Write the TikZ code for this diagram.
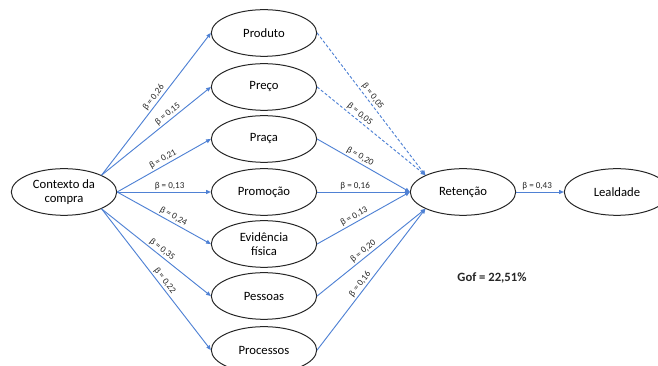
\documentclass[tikz,border=0pt]{standalone}
\usepackage{fontspec}
\setmainfont{Carlito}
\usetikzlibrary{arrows.meta,shapes.geometric}
\definecolor{linkblue}{RGB}{79,129,212}
\begin{document}
\begin{tikzpicture}[x=0.75pt, y=-0.75pt, line join=round, >={Triangle[length=3.5pt,width=3pt]},
	var/.style={draw=black!85, line width=0.75pt, ellipse, minimum width=79pt, minimum height=35pt, inner sep=0pt, align=center, font=\fontsize{9.5}{10.5}\selectfont},
	link/.style={->, color=linkblue, line width=0.7pt},
	weak/.style={link, dash pattern=on 2.2pt off 1.5pt},
	beta/.style={sloped, above, inner sep=1.2pt, text=black!85, font=\fontsize{6.8}{7}\selectfont}]
	\clip (0,0) rectangle (658,366);
	\useasboundingbox (0,0) rectangle (658,366);
	% variables
	\node[var] (ctx) at (64,192) {Contexto da\\compra};
	\foreach \n/\y/\t in {prod/33/Produto, prec/87/Preço, praca/139/Praça, prom/192/Promoção, evid/244/{Evidência\\física}, pess/296/Pessoas, proc/350/Processos}{
		\node[var] (\n) at (264,\y) {\t};
	}
	\node[var] (ret) at (463,192) {Retenção};
	\node[var] (leal) at (617,192) {Lealdade};
	% contexto -> 7P
	\draw[link] (ctx.north east) -- node[beta, pos=.52] {β = 0,26} (prod.west);
	\draw[link] (ctx.north east) -- node[beta, pos=.64] {β = 0,15} (prec.west);
	\draw[link] (ctx.east) -- node[beta, pos=.52] {β = 0,21} (praca.west);
	\draw[link] (ctx.east) -- node[beta, pos=.56] {β = 0,13} (prom.west);
	\draw[link] (ctx.east) -- node[beta, pos=.57] {β = 0,24} (evid.west);
	\draw[link] (ctx.south east) -- node[beta, pos=.52] {β = 0,35} (pess.west);
	\draw[link] (ctx.south east) -- node[beta, pos=.535] {β = 0,22} (proc.west);
	% 7P -> retencao
	\draw[weak] (prod.east) -- node[beta, pos=.47] {β = 0,05} (ret.north west);
	\draw[weak] (prec.east) -- node[beta, pos=.36] {β = 0,05} (ret.north west);
	\draw[link] (praca.east) -- node[beta, pos=.43] {β = 0,20} (ret.west);
	\draw[link] (prom.east) -- node[beta, pos=.41] {β = 0,16} (ret.west);
	\draw[link] (evid.east) -- node[beta, pos=.43] {β = 0,13} (ret.west);
	\draw[link] (pess.east) -- node[beta, pos=.46] {β = 0,20} (ret.south west);
	\draw[link] (proc.east) -- node[beta, pos=.44] {β = 0,16} (ret.south west);
	\draw[link] (ret.east) -- node[beta, pos=.44] {β = 0,43} (leal.west);
	\node[font=\bfseries\fontsize{9.5}{10.5}\selectfont, text=black!85] (gof) at (492,278) {Gof = 22,51\%};
\end{tikzpicture}
\end{document}
